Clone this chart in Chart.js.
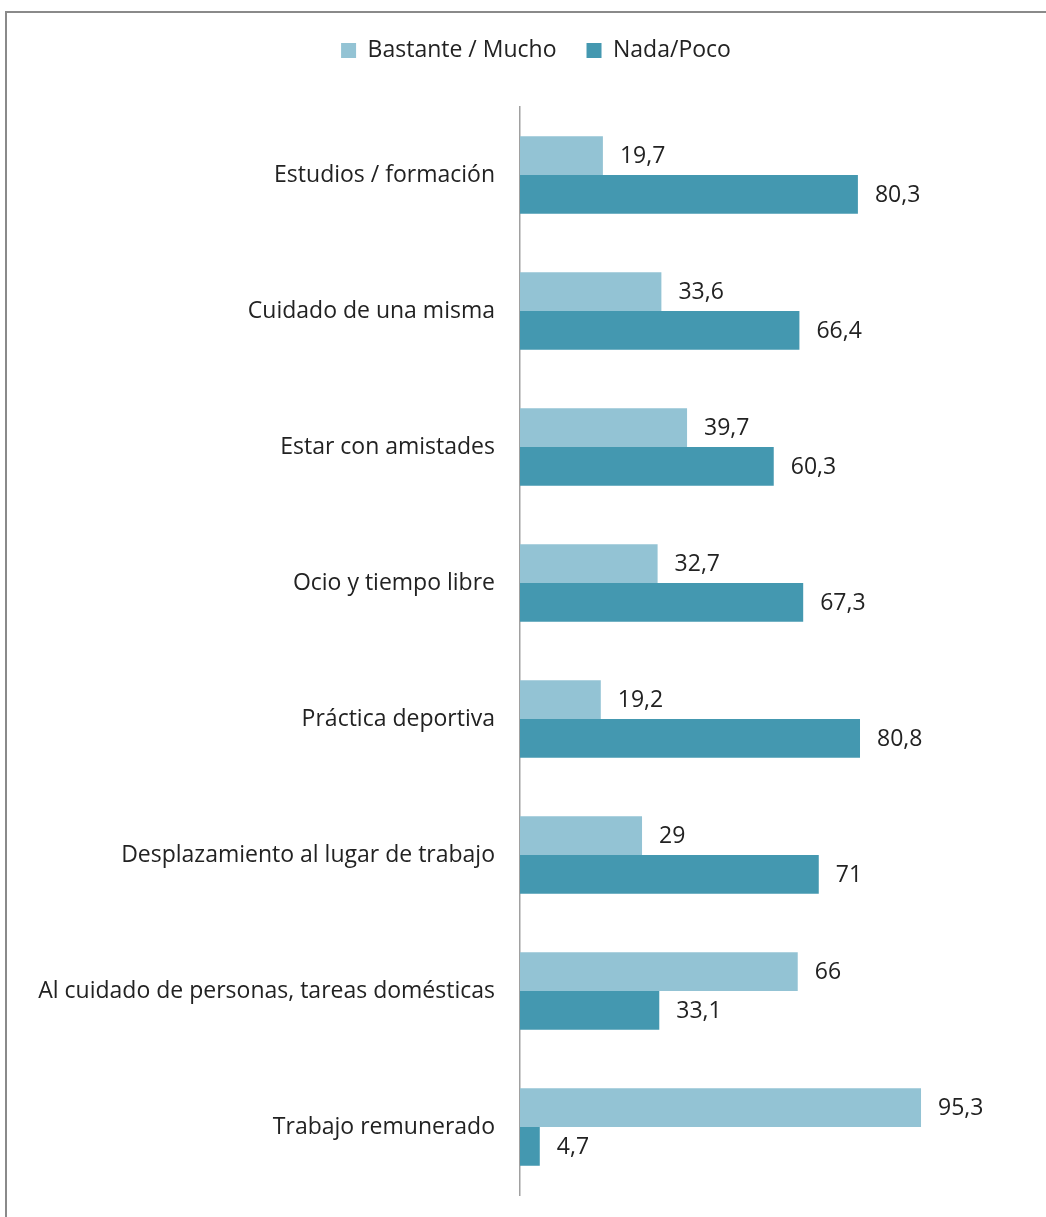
<!DOCTYPE html>
<html>
<head>
<meta charset="utf-8">
<script src="https://cdn.jsdelivr.net/npm/chart.js@4/dist/chart.umd.min.js"></script>
<style>
  html, body { margin: 0; padding: 0; background: #fff; overflow: hidden; }
  .frame {
    position: absolute; left: 5px; top: 11px; width: 1200px; height: 1400px;
    border-left: 2px solid #8a8a8a; border-top: 2px solid #8a8a8a;
  }
  #chart { position: absolute; left: 0; top: 0; }
</style>
</head>
<body>
<div class="frame"></div>
<canvas id="chart" width="1046" height="1217"></canvas>
<script>
const categories = [
  "Estudios / formación",
  "Cuidado de una misma",
  "Estar con amistades",
  "Ocio y tiempo libre",
  "Práctica deportiva",
  "Desplazamiento al lugar de trabajo",
  "Al cuidado de personas, tareas domésticas",
  "Trabajo remunerado"
];
const bastanteMucho = [19.7, 33.6, 39.7, 32.7, 19.2, 29, 66, 95.3];
const nadaPoco = [80.3, 66.4, 60.3, 67.3, 80.8, 71, 33.1, 4.7];

const FONT = "'Open Sans', 'DejaVu Sans', sans-serif";
const FONT_SIZE = 23;

// writes each bar's value just past its end, with a decimal comma
const valueLabels = {
  id: "valueLabels",
  afterDatasetsDraw(chart) {
    const ctx = chart.ctx;
    ctx.save();
    ctx.font = FONT_SIZE + "px " + FONT;
    ctx.fillStyle = "#222";
    ctx.textAlign = "left";
    ctx.textBaseline = "middle";
    chart.data.datasets.forEach((ds, i) => {
      chart.getDatasetMeta(i).data.forEach((bar, j) => {
        const txt = String(ds.data[j]).replace(".", ",");
        ctx.fillText(txt, bar.x + 17, bar.y + 1);
      });
    });
    ctx.restore();
  }
};

// leave more room between the legend and the bars
const legendSpace = {
  id: "legendSpace",
  beforeInit(chart) {
    const fit = chart.legend.fit;
    chart.legend.fit = function () {
      fit.call(this);
      this.height = 98;
    };
  }
};

new Chart(document.getElementById("chart").getContext("2d"), {
  type: "bar",
  data: {
    labels: categories,
    datasets: [
      {
        label: "Bastante / Mucho",
        data: bastanteMucho,
        backgroundColor: "#93c3d4"
      },
      {
        label: "Nada/Poco",
        data: nadaPoco,
        backgroundColor: "#4498b0"
      }
    ]
  },
  options: {
    indexAxis: "y",
    responsive: false,
    animation: false,
    layout: { padding: { top: 9, right: 0, bottom: 22, left: 26 } },
    datasets: {
      bar: { barPercentage: 1, categoryPercentage: 0.57 }
    },
    scales: {
      x: { display: false, min: 0, max: 125 },
      y: {
        grid: { display: false },
        border: { display: true, color: "#a0a0a0", width: 1.5 },
        ticks: { color: "#222", font: { family: FONT, size: FONT_SIZE }, padding: 17 },
        afterFit(scale) {
          scale.width = 494;
          scale.paddingTop = 0;
          scale.paddingBottom = 0;
        }
      }
    },
    plugins: {
      legend: {
        position: "top",
        labels: {
          color: "#222",
          font: { family: FONT, size: FONT_SIZE },
          boxWidth: 15,
          boxHeight: 15,
          padding: 30
        }
      },
      tooltip: { enabled: false }
    }
  },
  plugins: [valueLabels, legendSpace]
});
</script>
</body>
</html>
